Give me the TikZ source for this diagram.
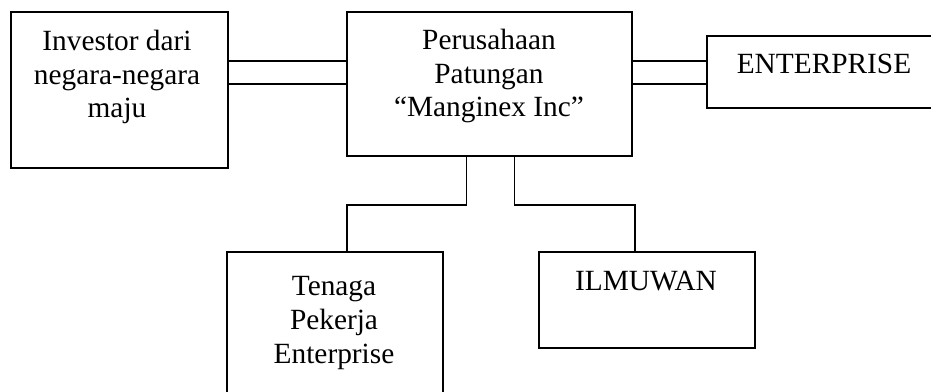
\documentclass[tikz,border=0pt]{standalone}
\usepackage{fontspec}
\setmainfont{Liberation Serif}
\usetikzlibrary{positioning,calc}

\newdimen\unitpx
\unitpx=0.75pt

\tikzset{
  box/.style={draw, line width=1.3pt, rectangle, anchor=north west, inner sep=0pt},
  boxtext/.style={align=center, inner sep=0pt, anchor=base,
    font=\fontsize{22}{25.2}\selectfont},
  link/.style={line width=1.3pt}
}

\begin{document}
\begin{tikzpicture}[x=\unitpx, y=-\unitpx]
   \useasboundingbox (0,0) rectangle (931,392);
   \clip (0,0) rectangle (931,392);

   % boxes
   \node[box, minimum width=217\unitpx, minimum height=156\unitpx] (inv) at (10,11) {};
   \node[box, minimum width=285\unitpx, minimum height=144\unitpx] (corp) at (346,11) {};
   \node[box, minimum width=236\unitpx, minimum height=72\unitpx] (ent) at (706,35) {};
   \node[box, minimum width=216\unitpx, minimum height=160\unitpx] (work) at (226,251) {};
   \node[box, minimum width=216\unitpx, minimum height=96\unitpx] (sci) at (538,251) {};

   % texts (base = last line)
   \node[boxtext] (invtxt) at (117,118) {Investor dari\\negara-negara\\maju};
   \node[boxtext] (corptxt) at (489,117) {Perusahaan\\Patungan\\``Manginex Inc''};
   \node[boxtext] (enttxt) at (824,74) {ENTERPRISE};
   \node[boxtext] (worktxt) at (334,363) {Tenaga\\Pekerja\\Enterprise};
   \node[boxtext] (scitxt) at (646,290) {ILMUWAN};

   % double links
   \draw[link] (corp.west) -- (corp.west -| inv.east);
   \draw[link] ($(corp.west)+(0,-23)$) -- ($(corp.west -| inv.east)+(0,-23)$);
   \draw[link] (corp.east) -- (corp.east -| ent.west);
   \draw[link] ($(corp.east)+(0,-23)$) -- ($(corp.east -| ent.west)+(0,-23)$);

   % links down
   \draw[link] ($(corp.south)+(-23,0)$) -- ++(0,48) -| ($(work.north)+(12,0)$);
   \draw[link] ($(corp.south)+(25,0)$) -- ++(0,48) -| ($(sci.north)+(-12,0)$);
\end{tikzpicture}
\end{document}
